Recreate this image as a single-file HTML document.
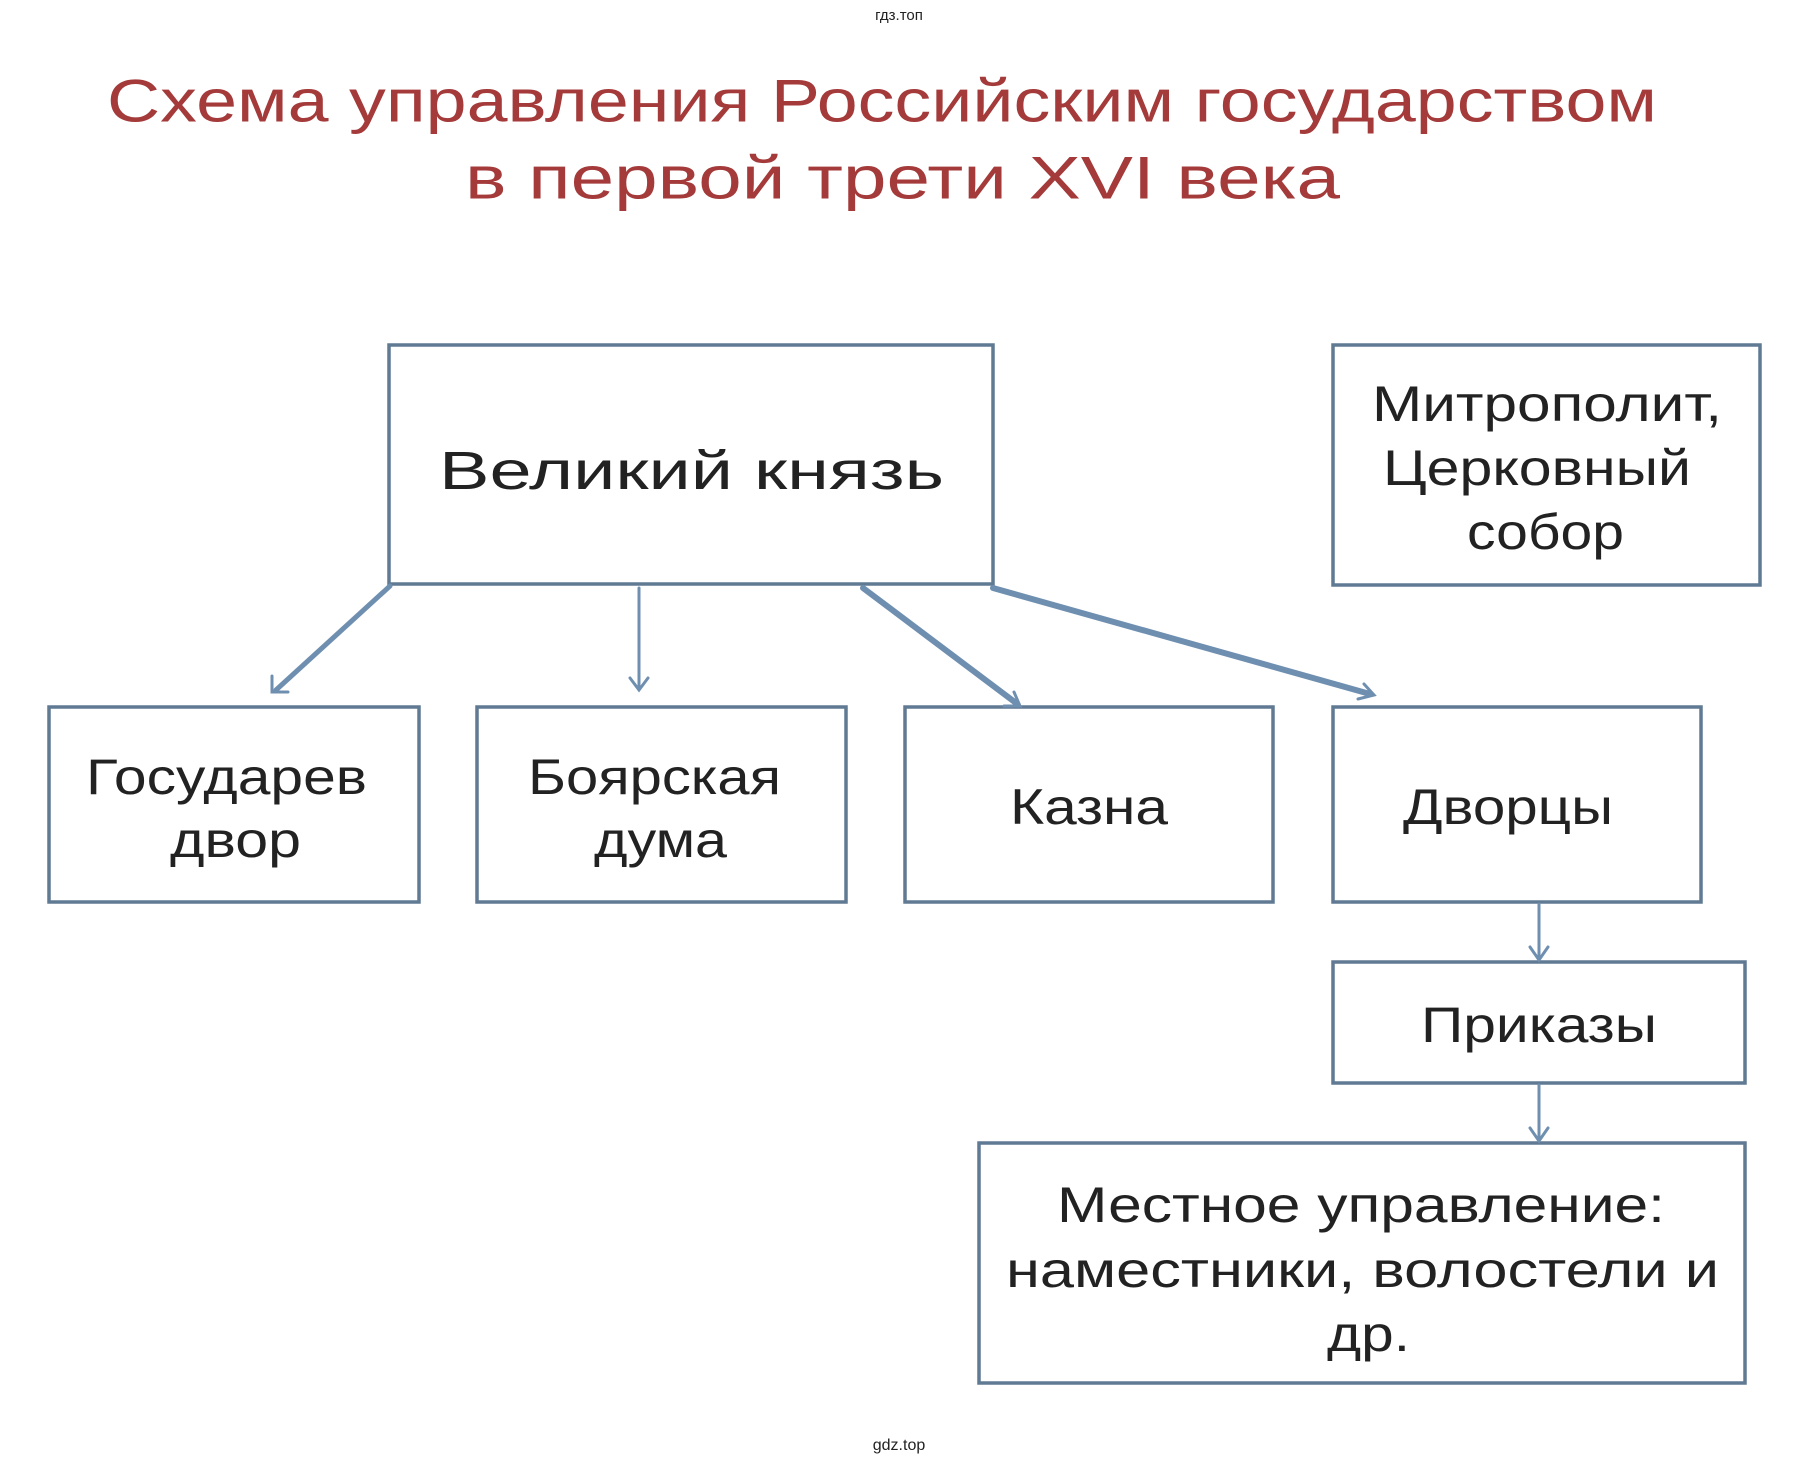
<!DOCTYPE html>
<html><head><meta charset="utf-8"><style>
html,body{margin:0;padding:0;background:#fff;}
svg{display:block;}
text{font-family:"Liberation Sans","DejaVu Sans",sans-serif;}
</style></head><body>
<svg width="1800" height="1465" viewBox="0 0 1800 1465" xmlns="http://www.w3.org/2000/svg">
<rect width="1800" height="1465" fill="#fff"/>
<text x="899" y="20" font-size="15" text-anchor="middle" fill="#222">гдз.топ</text>
<text x="899" y="1450" font-size="16" text-anchor="middle" fill="#222">gdz.top</text>
<g fill="#a43a3a" font-size="60" dominant-baseline="central" lengthAdjust="spacingAndGlyphs">
<text x="107" y="101" textLength="1550" lengthAdjust="spacingAndGlyphs">Схема  управления  Российским  государством</text>
<text x="465" y="178" textLength="875" lengthAdjust="spacingAndGlyphs">в  первой  трети  XVI  века</text>
</g>
<g fill="none" stroke="#607a94" stroke-width="3.5">
<rect x="389" y="345" width="604" height="239"/>
<rect x="1333" y="345" width="427" height="240"/>
<rect x="49" y="707" width="370" height="195"/>
<rect x="477" y="707" width="369" height="195"/>
<rect x="905" y="707" width="368" height="195"/>
<rect x="1333" y="707" width="368" height="195"/>
<rect x="1333" y="962" width="412" height="121"/>
<rect x="979" y="1143" width="766" height="240"/>
</g>
<g stroke="#6f8fb0" stroke-width="5" fill="none" stroke-linecap="round">
<line x1="390" y1="586" x2="276" y2="690"/>
<polyline points="272,676 272,692 288,692" stroke-width="3"/>
<line x1="639" y1="588" x2="639" y2="688" stroke-width="3"/>
<polyline points="630,678 639,690 648,678" stroke-width="3"/>
<line x1="863" y1="588" x2="1016" y2="703" stroke-width="6"/>
<polyline points="1004,706 1020,706 1014,692" stroke-width="3"/>
<line x1="993" y1="588" x2="1370" y2="694" stroke-width="6"/>
<polyline points="1358,699 1374,695 1364,684" stroke-width="3"/>
<line x1="1539" y1="904" x2="1539" y2="958" stroke-width="3"/>
<polyline points="1530,947 1539,960 1548,947" stroke-width="3"/>
<line x1="1539" y1="1085" x2="1539" y2="1139" stroke-width="3"/>
<polyline points="1530,1128 1539,1141 1548,1128" stroke-width="3"/>
</g>
<g fill="#222" font-size="50" dominant-baseline="central">
<text x="439" y="471" textLength="505" lengthAdjust="spacingAndGlyphs" font-size="54">Великий  князь</text>
<text x="1372" y="404" textLength="350" lengthAdjust="spacingAndGlyphs">Митрополит,</text>
<text x="1383" y="468" textLength="308" lengthAdjust="spacingAndGlyphs">Церковный</text>
<text x="1467" y="532" textLength="157" lengthAdjust="spacingAndGlyphs">собор</text>
<text x="86" y="777" textLength="281" lengthAdjust="spacingAndGlyphs">Государев</text>
<text x="170" y="840" textLength="131" lengthAdjust="spacingAndGlyphs">двор</text>
<text x="528" y="777" textLength="253" lengthAdjust="spacingAndGlyphs">Боярская</text>
<text x="594" y="840" textLength="133" lengthAdjust="spacingAndGlyphs">дума</text>
<text x="1010" y="807" textLength="158" lengthAdjust="spacingAndGlyphs">Казна</text>
<text x="1403" y="807" textLength="210" lengthAdjust="spacingAndGlyphs">Дворцы</text>
<text x="1421" y="1025" textLength="236" lengthAdjust="spacingAndGlyphs">Приказы</text>
<text x="1057" y="1205" textLength="608" lengthAdjust="spacingAndGlyphs">Местное  управление:</text>
<text x="1006" y="1270" textLength="713" lengthAdjust="spacingAndGlyphs">наместники, волостели  и</text>
<text x="1327" y="1334" textLength="83" lengthAdjust="spacingAndGlyphs">др.</text>
</g>
</svg>
</body></html>
